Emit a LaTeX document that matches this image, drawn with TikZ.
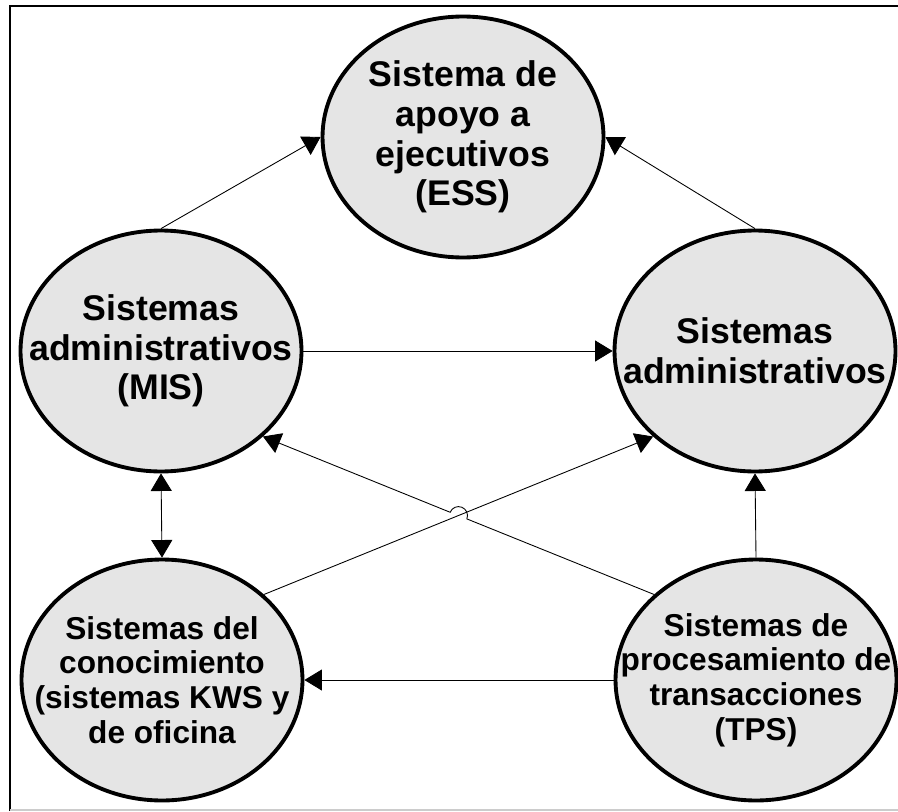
\documentclass[tikz,border=0pt]{standalone}
\usepackage{fontspec}
\setmainfont{Liberation Sans}
\usetikzlibrary{arrows.meta}
\usetikzlibrary{calc}
\usetikzlibrary{shapes.geometric}

\begin{document}
\begin{tikzpicture}[x=0.02cm,y=-0.02cm,
  sysnode/.style={ellipse,draw=black,line width=2.2pt,fill=black!10,minimum width=5.62cm,minimum height=4.82cm,inner sep=0pt},
  systext/.style={align=center,font=\bfseries\fontsize{20.3}{22.6}\selectfont,inner sep=0pt},
  systextsmall/.style={align=center,font=\bfseries\fontsize{18}{19.8}\selectfont,inner sep=0pt},
  link/.style={-{Triangle[length=10pt,width=12pt]},line width=0.5pt},
  bilink/.style={{Triangle[length=10pt,width=12pt]}-{Triangle[length=10pt,width=12pt]},line width=0.5pt}]
\useasboundingbox (0,0) rectangle (898,811);
\draw[line width=1.7pt] (10,811) -- (10,6) -- (898,6);
\draw[black!20,line width=0.8pt] (10,810) -- (898,810);

\node[sysnode] (ess) at (463,137) {};
\node[sysnode] (mis) at (161,351) {};
\node[sysnode] (adm) at (755,351) {};
\node[sysnode] (kws) at (162,680) {};
\node[sysnode] (tps) at (756,680) {};

\node[systext] (esstext) at (ess) {Sistema de\\apoyo a\\ejecutivos\\(ESS)};
\node[systext] (mistext) at (mis) {Sistemas\\administrativos\\(MIS)};
\node[systext] (admtext) at (adm) {Sistemas\\administrativos};
\node[systextsmall] (kwstext) at (kws) {Sistemas del\\conocimiento\\(sistemas KWS y\\de oficina};
\node[systextsmall] (tpstext) at (tps) {Sistemas de\\procesamiento de\\transacciones\\(TPS)};

\draw[link] (mis.north) -- (ess.west);
\draw[link] (adm.north) -- (ess.east);
\draw[link] (mis.east) -- (adm.west);
\draw[bilink] (mis.south) -- (kws.north);
\draw[link] (tps.north) -- (adm.south);
\draw[link] (tps.west) -- (kws.east);
\draw[link] (kws.40) -- (adm.220);
\coordinate (cross) at (intersection of kws.40--adm.220 and tps.140--mis.320);
\draw[link] (tps.140) -- ($(cross)!0.18cm!(tps.140)$) arc[start angle=-21.6,end angle=158.4,radius=0.18cm] -- (mis.320);

\end{tikzpicture}
\end{document}
